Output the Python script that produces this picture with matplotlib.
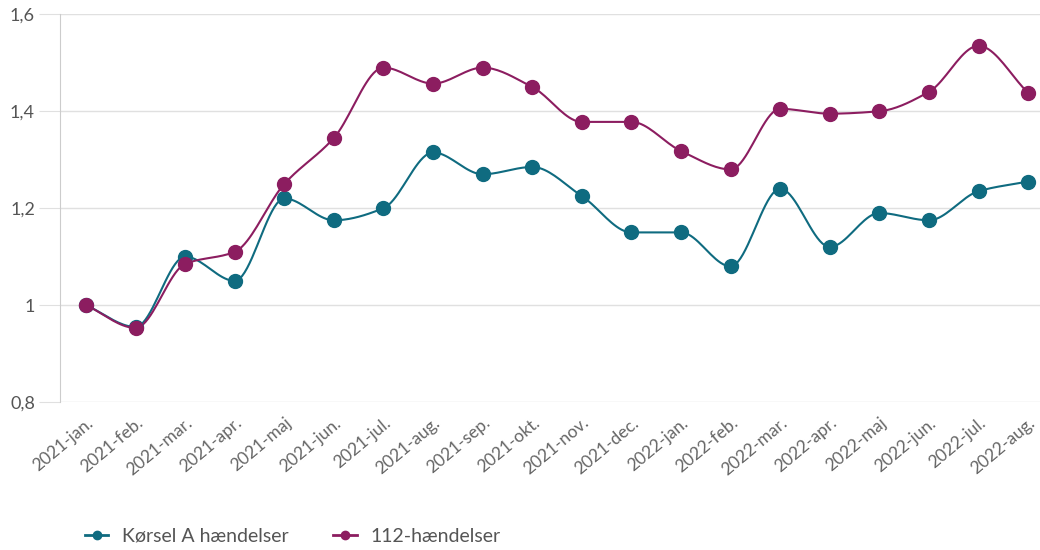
import matplotlib
matplotlib.use("Agg")
import matplotlib.pyplot as plt
import numpy as np

plt.rcParams['font.family'] = ['Lato', 'DejaVu Sans']

# months on the x axis
months = ['2021-jan.', '2021-feb.', '2021-mar.', '2021-apr.', '2021-maj', '2021-jun.',
          '2021-jul.', '2021-aug.', '2021-sep.', '2021-okt.', '2021-nov.', '2021-dec.',
          '2022-jan.', '2022-feb.', '2022-mar.', '2022-apr.', '2022-maj', '2022-jun.',
          '2022-jul.', '2022-aug.']

# index values
korsel_a = [1.0, 0.955, 1.10, 1.05, 1.22, 1.175, 1.20, 1.315, 1.27, 1.285,
            1.225, 1.15, 1.15, 1.08, 1.24, 1.12, 1.19, 1.175, 1.235, 1.255]
haendelser_112 = [1.0, 0.953, 1.085, 1.11, 1.25, 1.345, 1.49, 1.457, 1.49, 1.45,
                  1.378, 1.378, 1.318, 1.28, 1.405, 1.395, 1.40, 1.44, 1.535, 1.438]

y_ticks = [0.8, 1.0, 1.2, 1.4, 1.6]
y_labels = ['0,8', '1', '1,2', '1,4', '1,6']

teal = '#0f6b80'
purple = '#8c1d60'


def smooth(y, steps=20):
    # monotone cubic hermite between the points, only for drawing the line
    y = np.asarray(y, dtype=float)
    n = len(y)
    x = np.arange(n)
    d = np.diff(y)
    m = np.zeros(n)
    m[0], m[-1] = d[0], d[-1]
    for i in range(1, n - 1):
        if d[i - 1] * d[i] > 0:
            m[i] = 2 / (1 / d[i - 1] + 1 / d[i])
    xs, ys = [], []
    for i in range(n - 1):
        t = np.linspace(0, 1, steps, endpoint=False)
        h00 = 2 * t**3 - 3 * t**2 + 1
        h10 = t**3 - 2 * t**2 + t
        h01 = -2 * t**3 + 3 * t**2
        h11 = t**3 - t**2
        xs.extend(x[i] + t)
        ys.extend(h00 * y[i] + h10 * m[i] + h01 * y[i + 1] + h11 * m[i + 1])
    xs.append(x[-1])
    ys.append(y[-1])
    return np.array(xs), np.array(ys)


fig = plt.figure(figsize=(10.4, 5.5), dpi=100)
ax = fig.add_axes([0.0577, 0.269, 0.9423, 0.705])

x = np.arange(len(months))
for vals, col in [(korsel_a, teal), (haendelser_112, purple)]:
    sx, sy = smooth(vals)
    ax.plot(sx, sy, color=col, linewidth=1.5, zorder=3)
    ax.plot(x, vals, 'o', color=col, markersize=10, zorder=4)

ax.set_xlim(-0.524, 19.24)
ax.set_ylim(0.8, 1.6)
ax.set_yticks(y_ticks)
ax.set_yticklabels(y_labels)
ax.set_xticks(x)
ax.set_xticklabels(months, rotation=40, ha='right', rotation_mode='anchor')

ax.grid(axis='y', color='#e0e0e0', linewidth=1)
ax.set_axisbelow(True)
for s in ['top', 'right', 'bottom']:
    ax.spines[s].set_visible(False)
ax.spines['left'].set_color('#cccccc')
ax.tick_params(axis='y', length=15, color='#e0e0e0', labelsize=13, labelcolor='#555555', pad=3)
ax.tick_params(axis='x', length=0, labelsize=12.5, labelcolor='#666666', pad=9)

# legend at the bottom
h1, = ax.plot([], [], '-o', color=teal, markersize=6, linewidth=2)
h2, = ax.plot([], [], '-o', color=purple, markersize=6, linewidth=2)
leg = fig.legend([h1, h2], ['Kørsel A hændelser', '112-hændelser'], loc='lower left',
                 bbox_to_anchor=(0.065, -0.022), ncol=2, frameon=False, fontsize=14,
                 handlelength=1.2, columnspacing=2.3, handletextpad=0.7)
for t in leg.get_texts():
    t.set_color('#555555')

fig.savefig('out.png', dpi=100)
